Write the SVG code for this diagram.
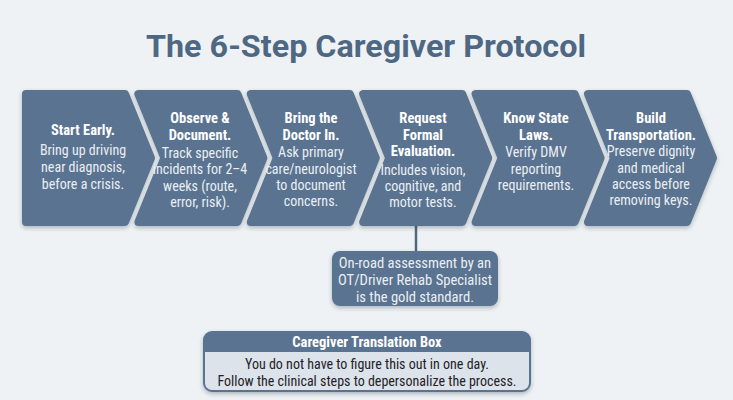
<svg xmlns="http://www.w3.org/2000/svg" width="733" height="400" viewBox="0 0 733 400">
<defs>
<filter id="sh" x="-10%" y="-10%" width="120%" height="130%">
<feDropShadow dx="0" dy="2" stdDeviation="2" flood-color="#1c2a3a" flood-opacity="0.3"/>
</filter>
<style>
.chev{fill:#5a7390;stroke:#5a7390;stroke-width:8;stroke-linejoin:round;filter:url(#sh)}
.h{font-family:"Liberation Sans Narrow","Roboto Condensed","Liberation Sans",sans-serif;font-weight:bold;font-size:14.5px;fill:#ffffff;text-anchor:middle}
.b{font-family:"Liberation Sans Narrow","Roboto Condensed","Liberation Sans",sans-serif;font-size:14px;fill:#eaeff4;text-anchor:middle}
.c{font-family:"Liberation Sans Narrow","Roboto Condensed","Liberation Sans",sans-serif;font-size:14.6px;fill:#eaeff4;text-anchor:middle}
.d{font-family:"Liberation Sans Narrow","Roboto Condensed","Liberation Sans",sans-serif;font-size:14px;fill:#1e2228;text-anchor:middle}
</style>
</defs>
<rect width="733" height="400" fill="#eef2f5"/>
<text x="366" y="57" font-family="Roboto,'Liberation Sans',sans-serif" font-weight="bold" font-size="32" fill="#4e6883" text-anchor="middle" textLength="440" lengthAdjust="spacingAndGlyphs">The 6-Step Caregiver Protocol</text>

<g id="connectors">
<line x1="416" y1="224" x2="416" y2="253" stroke="#4e6883" stroke-width="2.5"/>
</g>

<g id="step1">
<polygon class="chev" points="26,94 125,94 151,158 125,222 26,222"/>
<text class="h" x="83" y="135">Start Early.</text>
<text class="b" x="83" y="155">Bring up driving</text>
<text class="b" x="83" y="172">near diagnosis,</text>
<text class="b" x="83" y="189">before a crisis.</text>
</g>
<g id="step2">
<polygon class="chev" points="138.4,94 237.4,94 263.4,158 237.4,222 138.4,222 164.4,158"/>
<text class="h" x="200" y="123">Observe &amp;</text>
<text class="h" x="200" y="140">Document.</text>
<text class="b" x="200" y="158">Track specific</text>
<text class="b" x="200" y="174">incidents for 2–4</text>
<text class="b" x="200" y="191">weeks (route,</text>
<text class="b" x="200" y="207">error, risk).</text>
</g>
<g id="step3">
<polygon class="chev" points="250.8,94 349.8,94 375.8,158 349.8,222 250.8,222 276.8,158"/>
<text class="h" x="311" y="123">Bring the</text>
<text class="h" x="311" y="140">Doctor In.</text>
<text class="b" x="311" y="157">Ask primary</text>
<text class="b" x="311" y="174">care/neurologist</text>
<text class="b" x="311" y="190">to document</text>
<text class="b" x="311" y="206">concerns.</text>
</g>
<g id="step4">
<polygon class="chev" points="363.2,94 462.2,94 488.2,158 462.2,222 363.2,222 389.2,158"/>
<text class="h" x="423" y="123">Request</text>
<text class="h" x="423" y="140">Formal</text>
<text class="h" x="423" y="156">Evaluation.</text>
<text class="b" x="423" y="175">Includes vision,</text>
<text class="b" x="423" y="191">cognitive, and</text>
<text class="b" x="423" y="207">motor tests.</text>
</g>
<g id="step5">
<polygon class="chev" points="475.6,94 574.6,94 600.6,158 574.6,222 475.6,222 501.6,158"/>
<text class="h" x="536" y="123">Know State</text>
<text class="h" x="536" y="140">Laws.</text>
<text class="b" x="536" y="157">Verify DMV</text>
<text class="b" x="536" y="174">reporting</text>
<text class="b" x="536" y="190">requirements.</text>
</g>
<g id="step6">
<polygon class="chev" points="588,94 687,94 713,158 687,222 588,222 614,158"/>
<text class="h" x="651" y="123">Build</text>
<text class="h" x="651" y="140">Transportation.</text>
<text class="b" x="651" y="156">Preserve dignity</text>
<text class="b" x="651" y="173">and medical</text>
<text class="b" x="651" y="189">access before</text>
<text class="b" x="651" y="205">removing keys.</text>
</g>

<g id="callout">
<rect x="332" y="251" width="166" height="55" rx="8" fill="#5a7390" filter="url(#sh)"/>
<text class="c" x="415" y="268">On-road assessment by an</text>
<text class="c" x="415" y="285">OT/Driver Rehab Specialist</text>
<text class="c" x="415" y="302">is the gold standard.</text>
</g>

<g id="translation-box">
<rect x="204" y="332" width="326" height="59" rx="8" fill="#dde3ea" stroke="#5a7390" stroke-width="2" filter="url(#sh)"/>
<path d="M204,352 V340 A8,8 0 0 1 212,332 H522 A8,8 0 0 1 530,340 V352 Z" fill="#5a7390"/>
<text class="h" x="367" y="347">Caregiver Translation Box</text>
<text class="d" x="367" y="369">You do not have to figure this out in one day.</text>
<text class="d" x="367" y="386">Follow the clinical steps to depersonalize the process.</text>
</g>
</svg>
